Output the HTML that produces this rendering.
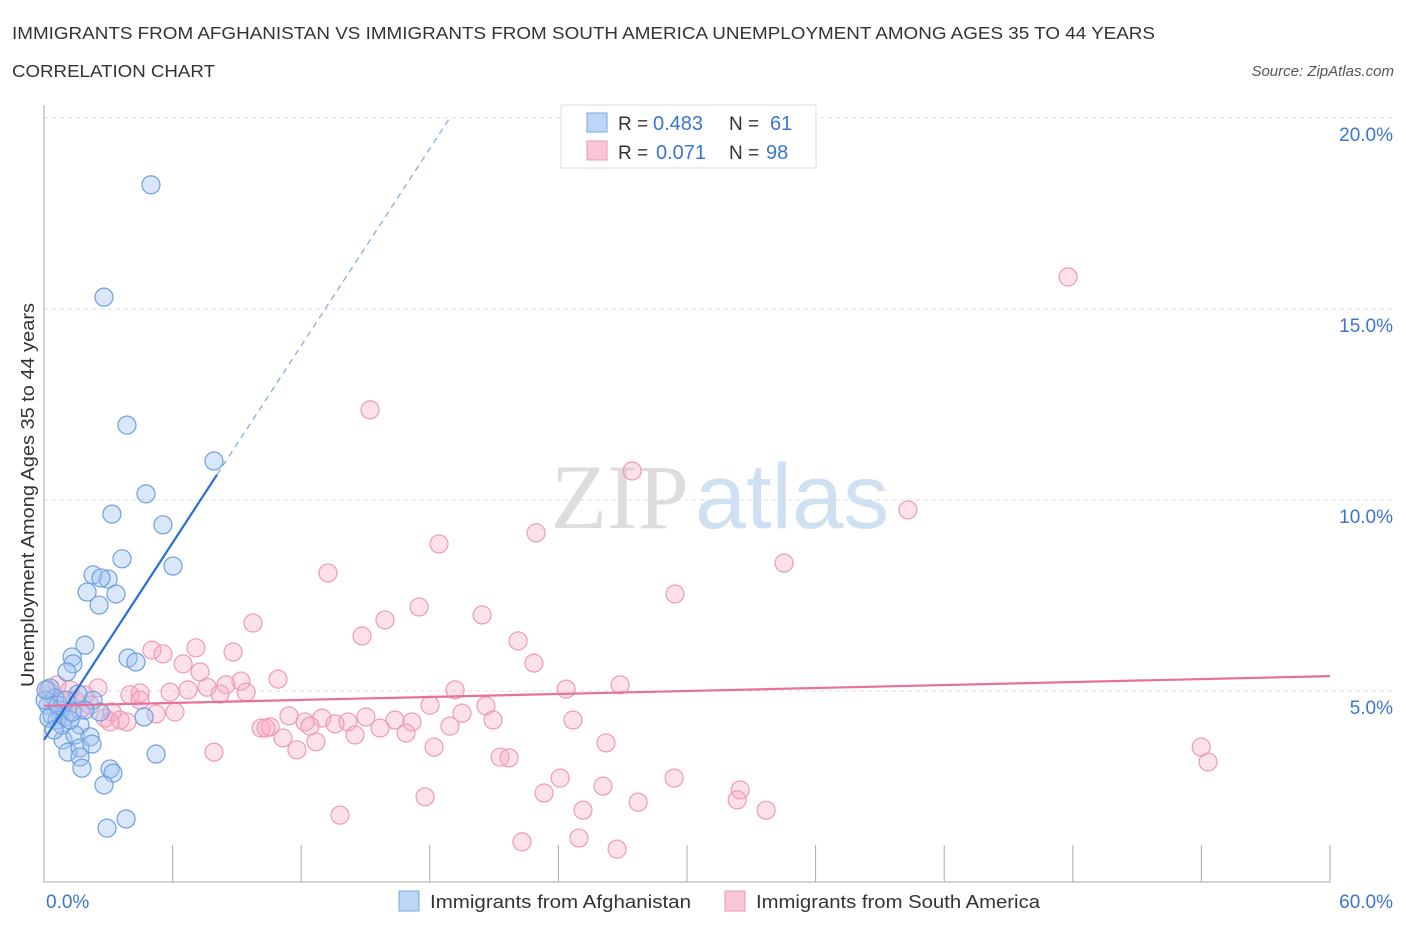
<!DOCTYPE html>
<html><head><meta charset="utf-8"><style>
body{margin:0;background:#fff;font-family:"Liberation Sans",sans-serif;}
</style></head><body>
<svg id="chart" width="1406" height="930" xmlns="http://www.w3.org/2000/svg" font-family="Liberation Sans, sans-serif">
<text x="12" y="39" font-size="17.5" fill="#333" textLength="1143" lengthAdjust="spacingAndGlyphs">IMMIGRANTS FROM AFGHANISTAN VS IMMIGRANTS FROM SOUTH AMERICA UNEMPLOYMENT AMONG AGES 35 TO 44 YEARS</text>
<text x="12" y="77" font-size="17.5" fill="#333" textLength="203" lengthAdjust="spacingAndGlyphs">CORRELATION CHART</text>
<text x="1394" y="76" font-size="15" fill="#555" font-style="italic" text-anchor="end">Source: ZipAtlas.com</text>
<text x="720" y="528" font-size="92" text-anchor="middle"><tspan fill="#ddd" font-family="Liberation Serif, serif">ZIP</tspan><tspan fill="#cfe0f3" dx="6">atlas</tspan></text>
<g id="grid"></g><g id="axes"></g><g id="pts"></g><g id="lines"></g>
<text transform="translate(34,495) rotate(-90)" font-size="18" fill="#333" text-anchor="middle" textLength="384" lengthAdjust="spacingAndGlyphs">Unemployment Among Ages 35 to 44 years</text>
<g>
<rect x="561" y="105" width="255" height="63" fill="#fff" stroke="#ddd"/>
<rect x="587" y="113" width="20" height="19" fill="#bdd6f7" stroke="#7aa7e0"/>
<rect x="587" y="141" width="20" height="19" fill="#f9c6d6" stroke="#ec9ab5"/>
<text x="618" y="130" font-size="19" fill="#333">R =</text>
<text x="653" y="130" font-size="20" fill="#3c75d0">0.483</text>
<text x="729" y="130" font-size="19" fill="#333">N =</text>
<text x="770" y="130" font-size="20" fill="#3c75d0">61</text>
<text x="618" y="159" font-size="19" fill="#333">R =</text>
<text x="656" y="159" font-size="20" fill="#3c75d0">0.071</text>
<text x="729" y="159" font-size="19" fill="#333">N =</text>
<text x="766" y="159" font-size="20" fill="#3c75d0">98</text>
</g>
<g>
<rect x="399" y="891" width="20" height="20" fill="#bdd6f7" stroke="#7aa7e0"/>
<text x="430" y="908" font-size="18" fill="#333" textLength="261" lengthAdjust="spacingAndGlyphs">Immigrants from Afghanistan</text>
<rect x="725" y="891" width="20" height="20" fill="#f9c6d6" stroke="#ec9ab5"/>
<text x="756" y="908" font-size="18" fill="#333" textLength="284" lengthAdjust="spacingAndGlyphs">Immigrants from South America</text>
</g>
</svg>
<script>
const blueX=[4.99,2.80,3.87,7.93,4.76,3.17,5.55,3.64,6.02,2.29,2.99,2.66,2.01,3.36,2.57,1.91,1.31,1.35,3.92,4.29,1.07,1.59,2.29,0.28,0.51,0.19,0.75,0.37,0.98,0.61,0.23,2.61,1.68,4.67,0.89,1.45,2.15,1.12,1.68,2.24,1.68,3.08,1.77,3.22,5.23,2.80,3.83,2.94,0.84,1.21,0.05,0.65,1.03,0.47,1.31,1.91,0.09];
const blueY=[18.25,15.31,11.96,11.02,10.16,9.63,9.35,8.46,8.27,8.04,7.93,7.96,7.59,7.54,7.25,6.20,5.89,5.71,5.86,5.76,5.50,4.92,4.76,5.08,4.82,4.63,4.50,4.37,4.32,4.24,4.29,4.45,4.11,4.32,3.72,3.85,3.80,3.40,3.51,3.61,3.27,2.96,2.98,2.85,3.35,2.54,1.65,1.41,4.11,4.24,4.76,4.63,4.76,3.98,4.45,4.50,5.03];
const pinkX=[47.78,15.21,27.44,40.31,18.43,22.96,34.53,13.25,17.50,29.44,20.44,15.91,9.75,14.84,22.12,5.04,7.09,8.82,5.55,22.86,6.49,7.28,10.92,9.19,8.49,19.18,24.36,26.88,2.52,7.61,6.72,9.43,4.48,4.01,5.88,8.21,0.61,1.45,2.15,3.17,18.01,20.62,19.50,5.23,6.11,11.43,12.97,15.02,16.38,17.17,14.18,12.18,12.41,13.58,10.55,10.13,15.68,18.94,20.95,24.68,3.55,3.87,2.85,14.51,10.36,16.89,11.15,12.69,18.20,11.80,26.22,7.93,21.28,21.70,24.08,29.40,23.33,26.08,17.78,27.72,32.48,32.34,25.15,33.69,13.81,22.30,24.96,26.74,53.99,54.31,0.19,0.84,1.68,3.08,4.48,1.91,0.75,1.21];
const pinkY=[15.84,12.36,10.76,9.74,8.85,9.14,8.35,8.09,7.20,7.54,6.99,6.86,6.78,6.44,6.31,6.07,6.13,6.02,5.97,5.73,5.71,5.50,5.31,5.26,5.16,5.03,5.05,5.16,5.08,5.10,5.03,4.97,4.95,4.90,4.97,4.92,5.16,4.76,4.63,4.45,4.63,4.61,4.42,4.40,4.45,4.35,4.29,4.32,4.24,4.19,4.19,4.19,4.08,4.14,4.06,4.03,4.03,4.08,4.24,4.24,4.24,4.19,4.29,3.85,4.03,3.90,3.77,3.67,3.53,3.46,3.64,3.40,3.27,3.25,2.72,2.72,2.33,2.51,2.23,2.09,2.41,2.15,1.88,1.88,1.75,1.05,1.15,0.86,3.53,3.14,5.03,4.76,4.50,4.19,4.76,4.90,4.37,5.03];
const yTicks=[5,10,15,20];
const yTickLabels=["5.0%","10.0%","15.0%","20.0%"];
const xTicks=[0,6,12,18,24,30,36,42,48,54,60];
const blueTrend=[3.72,0.86,8.07];
const pinkTrend=[4.61,0.013];
const NS='http://www.w3.org/2000/svg';
const sx=v=>44+v/60*1286, sy=v=>882-v/20*764;
function mk(p,t,a){const e=document.createElementNS(NS,t);for(const k in a)e.setAttribute(k,a[k]);document.getElementById(p).appendChild(e);return e;}
yTicks.forEach((t,i)=>{
 const g=mk('grid','line',{x1:44,x2:1394,y1:sy(t),y2:sy(t),stroke:'#ddd','stroke-dasharray':'4,4'});
 
 
 const l=mk('axes','text',{x:1393,y:sy(t)+23,'font-size':19,fill:'#3c75d0','text-anchor':'end'});l.textContent=yTickLabels[i];
 
 
});
const ax=mk('axes','line',{x1:44,x2:44,y1:105,y2:882,stroke:'#aaa'});


const bx=mk('axes','line',{x1:44,x2:1330,y1:882,y2:882,stroke:'#aaa'});


xTicks.forEach(t=>{const e=mk('axes','line',{x1:sx(t),x2:sx(t),y1:845,y2:882,stroke:'#aaa'});
 
 });
[[0,'0.0%',46,'start'],[60,'60.0%',1393,'end']].forEach(d=>{const e=mk('axes','text',{x:d[2],y:908,'font-size':19,fill:'#3c75d0','text-anchor':d[3]});e.textContent=d[1];
 
 });
pinkX.forEach((x,i)=>{const c=mk('pts','circle',{cx:sx(x),cy:sy(pinkY[i]),r:9,fill:'rgba(247,170,195,0.35)',stroke:'#ee9ab6','stroke-width':1.2});
 
 });
blueX.forEach((x,i)=>{const c=mk('pts','circle',{cx:sx(x),cy:sy(blueY[i]),r:9,fill:'rgba(160,196,240,0.4)',stroke:'#6d9fe0','stroke-width':1.2});
 
 });
const bEnd=(20-blueTrend[0])/blueTrend[1];
const l1=mk('lines','line',{x1:sx(0),y1:sy(blueTrend[0]),x2:sx(blueTrend[2]),y2:sy(blueTrend[0]+blueTrend[1]*blueTrend[2]),stroke:'#2b6fd6','stroke-width':2.2});


const l2=mk('lines','line',{x1:sx(blueTrend[2]),y1:sy(blueTrend[0]+blueTrend[1]*blueTrend[2]),x2:sx(bEnd),y2:sy(20),stroke:'#7aa7e0','stroke-width':1.2,'stroke-dasharray':'6,5'});


const l3=mk('lines','line',{x1:sx(0),y1:sy(pinkTrend[0]),x2:sx(60),y2:sy(pinkTrend[0]+pinkTrend[1]*60),stroke:'#e8709a','stroke-width':2.2});


</script>
</body></html>
